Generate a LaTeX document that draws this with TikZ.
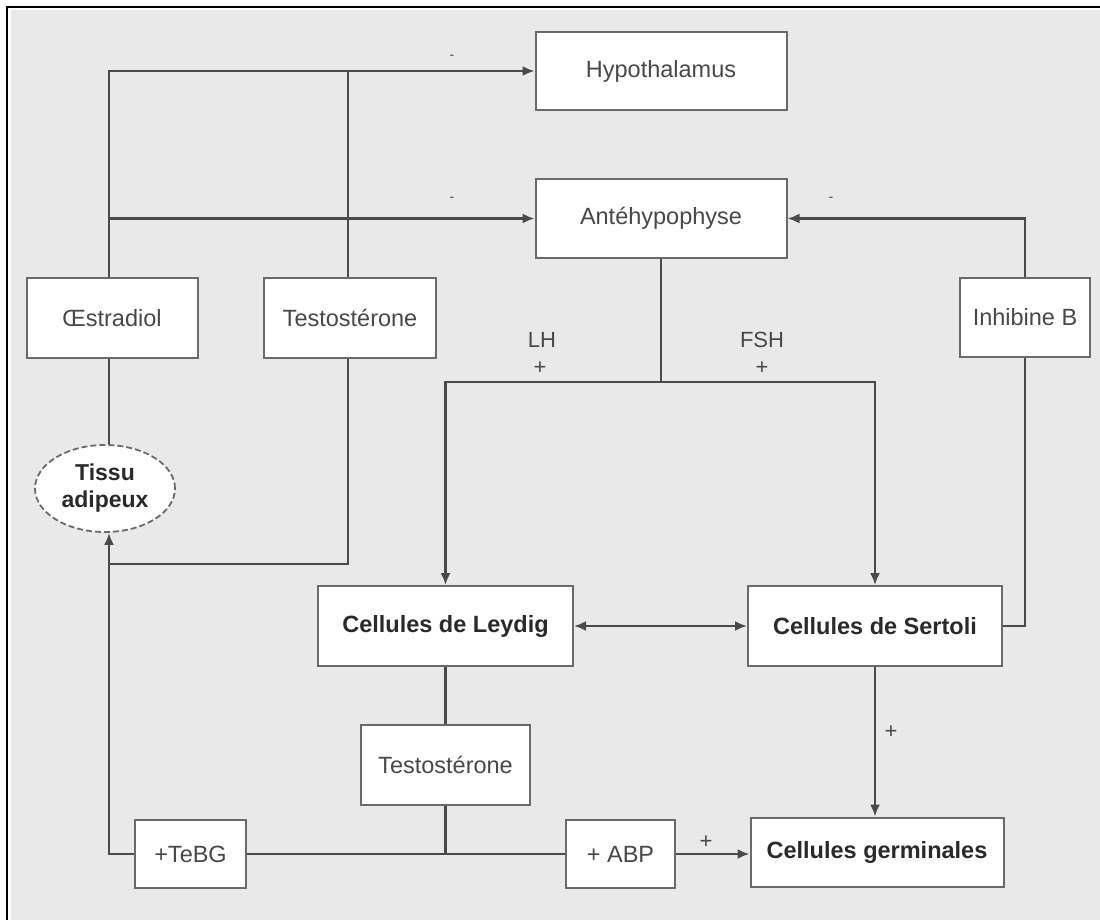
\documentclass[tikz,border=0pt]{standalone}
\usepackage{fontspec}
\setmainfont{Liberation Sans}
\usetikzlibrary{arrows.meta,shapes.geometric}
\definecolor{bg}{HTML}{E9E9E9}
\definecolor{ln}{HTML}{4A4A4A}
\definecolor{bx}{HTML}{6A6A6A}
\definecolor{tx}{HTML}{484848}
\definecolor{tb}{HTML}{2A2A2A}
\begin{document}
\begin{tikzpicture}[x=1pt,y=-1pt,
  box/.style={draw=bx, line width=2pt, fill=white, rectangle, inner sep=0pt,
    font=\fontsize{23.5}{27}\selectfont, text=tx},
  boldbox/.style={box, font=\fontsize{23.5}{27}\selectfont\bfseries, text=tb},
  conn/.style={draw=ln, line width=2.2pt},
  arr/.style={conn, -{Latex[length=12pt,width=10pt]}},
  dblarr/.style={conn, {Latex[length=12pt,width=10pt]}-{Latex[length=12pt,width=10pt]}},
  lbl/.style={font=\fontsize{22}{24}\selectfont, text=tx, inner sep=0pt},
  minus/.style={font=\fontsize{14}{16}\selectfont, text=tx, inner sep=0pt}]
\useasboundingbox (0,0) rectangle (1100,920);
% background and frame
\fill[white] (0,0) rectangle (1100,920);
\fill[bg] (11,10) rectangle (1100,920);
\draw[black, line width=2pt] (7,920) -- (7,7) -- (1100,7);

% nodes
\node[box, minimum width=251, minimum height=78] (hyp) at (661,71) {Hypothalamus};
\node[box, minimum width=251, minimum height=79] (ant) at (661,218.5) {Antéhypophyse};
\node[box, minimum width=171, minimum height=80] (oes) at (112,318) {Œstradiol};
\node[box, minimum width=172, minimum height=80] (tes1) at (350,318) {Testostérone};
\node[box, minimum width=130, minimum height=79] (inh) at (1025,317.5) {Inhibine B};
\node[draw=bx, line width=1.8pt, dash pattern=on 6pt off 3pt, fill=white, ellipse,
      inner sep=0pt, minimum width=140, minimum height=87, align=center,
      font=\fontsize{23}{27}\selectfont\bfseries, text=tb] (tissu) at (105,488.5) {Tissu\\adipeux};
\node[boldbox, minimum width=255, minimum height=80] (ley) at (445.5,626) {Cellules de Leydig};
\node[boldbox, minimum width=254, minimum height=80] (ser) at (875,626) {Cellules de Sertoli};
\node[box, minimum width=169, minimum height=80] (tes2) at (445.5,765) {Testostérone};
\node[boldbox, minimum width=253, minimum height=69] (germ) at (877,852) {Cellules germinales};
\node[box, minimum width=111, minimum height=68] (tebg) at (190.5,854) {+TeBG};
\node[box, minimum width=109, minimum height=68] (abp) at (620.5,854) {+ ABP};

% helper coordinates
\coordinate (br) at (ant.south |- 0,382);
\coordinate (j1) at (oes.south |- 0,564);

% connectors
\draw[arr] ([xshift=-3pt]oes.north) |- (hyp.west);
\draw[arr] ([xshift=-3pt]oes.north |- ant.west) -- (ant.west);
\draw[conn] ([xshift=-2pt]tes1.north) -- ([xshift=-2pt]tes1.north |- hyp.west);
\draw[conn] (hyp.south) -- (ant.south |- hyp.south);
\draw[arr] (inh.north) |- (ant.east);
\draw[conn] (ant.south) -- (br);
\draw[arr] (br) -| (ley.north);
\draw[arr] (br) -| (ser.north);
\draw[dblarr] (ley.east) -- (ser.west);
\draw[conn] (ser.east) -| (inh.south);
\draw[arr] (ser.south) -- (ser.south |- germ.north);
\draw[conn] ([xshift=-3pt]oes.south) -- ([xshift=-3pt]oes.south |- tissu.north);
\draw[conn] ([xshift=-2pt]tes1.south) |- ([xshift=-3pt]j1);
\draw[conn] (ley.south) -- (tes2.north);
\draw[conn] (tes2.south) -- (tes2.south |- tebg.east);
\draw[conn] (tebg.east) -- (abp.west);
\draw[arr] (tebg.west) -| ([xshift=-3pt]oes.south |- tissu.south);
\draw[arr] (abp.east) -- (abp.east -| germ.west);

% labels
\node[minus] (m1) at (452,57) {-};
\node[minus] (m2) at (452,199) {-};
\node[minus] (m3) at (831,199) {-};
\node[lbl] (lh) at (542,340) {LH};
\node[lbl] (lhp) at (540,368) {+};
\node[lbl] (fsh) at (762,340) {FSH};
\node[lbl] (fshp) at (762,368) {+};
\node[lbl] (sgp) at (891,732) {+};
\node[lbl] (abpp) at (706,842) {+};
\end{tikzpicture}
\end{document}
